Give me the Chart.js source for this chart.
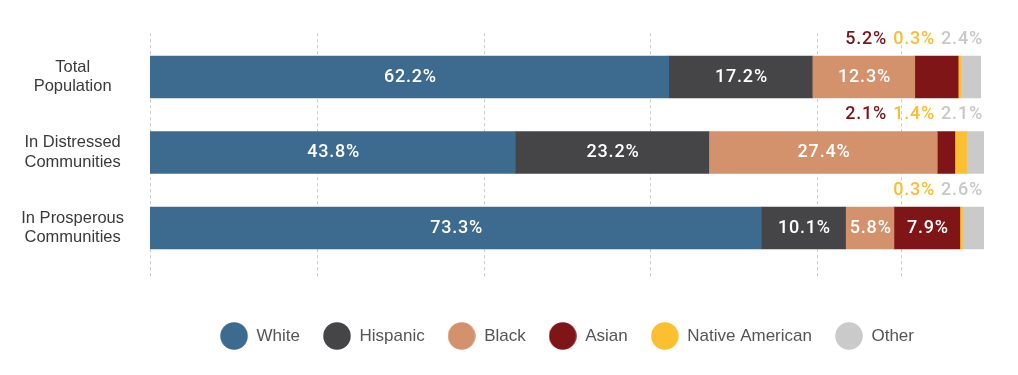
<!DOCTYPE html>
<html>
<head>
<meta charset="utf-8">
<script src="https://cdn.jsdelivr.net/npm/chart.js@4.4.1/dist/chart.umd.min.js"></script>
<style>
  html, body { margin: 0; padding: 0; background: #fff; }
</style>
</head>
<body>
<canvas id="race-chart" width="1018" height="375"></canvas>
<script>
// Population share by race/ethnicity, % of each group

const categories = [['Total', 'Population'], ['In Distressed', 'Communities'], ['In Prosperous', 'Communities']]
const seriesNames = ['White', 'Hispanic', 'Black', 'Asian', 'Native American', 'Other']

const white = [62.2, 43.8, 73.3]
const hispanic = [17.2, 23.2, 10.1]
const black = [12.3, 27.4, 5.8]
const asian = [5.2, 2.1, 7.9]
const nativeAmerican = [0.3, 1.4, 0.3]
const other = [2.4, 2.1, 2.6]

// dashed guide lines (percent)
const gridTicks = [0, 20, 40, 60, 80, 90]

const COLORS = ['#3d6b8f', '#454547', '#d3926c', '#7f1517', '#fcbf30', '#cacaca']
const LABEL_COLORS = ['#3d6b8f', '#454547', '#d3926c', '#7b1518', '#f9bd30', '#c8c8c8']
const FONT = "'Liberation Sans', Arial, sans-serif"

const seriesData = [white, hispanic, black, asian, nativeAmerican, other]

// round legend markers, drawn once as small canvases
function dot(color) {
  const c = document.createElement('canvas')
  c.width = c.height = 28
  const g = c.getContext('2d')
  g.fillStyle = color
  g.beginPath()
  g.arc(14, 14, 13.75, 0, Math.PI * 2)
  g.fill()
  return c
}

// dashed vertical lines, a bit longer than the plot area
const dashedGrid = {
  id: 'dashedGrid',
  beforeDatasetsDraw(chart) {
    const { ctx, chartArea, scales: { x } } = chart
    ctx.save()
    ctx.strokeStyle = '#c9c9c9'
    ctx.lineWidth = 1
    ctx.setLineDash([3, 3])
    gridTicks.forEach(t => {
      const px = Math.round(x.getPixelForValue(t)) + 0.5
      ctx.beginPath()
      ctx.moveTo(px, chartArea.top - 6)
      ctx.lineTo(px, chartArea.bottom + 11)
      ctx.stroke()
    })
    ctx.restore()
  }
}

// value labels: big segments inside, small ones above the bar end
const segmentLabels = {
  id: 'segmentLabels',
  afterDatasetsDraw(chart) {
    const ctx = chart.ctx
    ctx.save()
    ctx.font = '500 18px Roboto'
    ctx.letterSpacing = '0.8px'
    ctx.textBaseline = 'middle'
    chart.data.labels.forEach((_, i) => {
      let right = chart.chartArea.right - 1
      for (let d = chart.data.datasets.length - 1; d >= 0; d--) {
        const v = chart.data.datasets[d].data[i]
        const bar = chart.getDatasetMeta(d).data[i]
        const text = v.toFixed(1) + '%'
        if (v >= 5.5) {
          ctx.fillStyle = '#fff'
          ctx.textAlign = 'center'
          ctx.fillText(text, (bar.base + bar.x) / 2 + 1, bar.y)
        } else {
          ctx.fillStyle = LABEL_COLORS[d]
          ctx.textAlign = 'right'
          ctx.fillText(text, right, bar.y - bar.height / 2 - 17)
          right -= ctx.measureText(text).width + 6
        }
      }
    })
    ctx.restore()
  }
}

new Chart(document.getElementById('race-chart'), {
  type: 'bar',
  data: {
    labels: categories,
    datasets: seriesNames.map((name, k) => ({
      label: name,
      data: seriesData[k],
      backgroundColor: COLORS[k],
      pointStyle: dot(COLORS[k]),
      borderWidth: 0,
      barThickness: 42
    }))
  },
  options: {
    indexAxis: 'y',
    responsive: false,
    animation: false,
    layout: { padding: { top: 39.25, right: 34, bottom: 20.5, left: 0 } },
    scales: {
      x: {
        stacked: true,
        min: 0,
        max: 100,
        grid: { display: false },
        border: { display: false },
        ticks: { display: false },
        afterFit: (scale) => { scale.height = 38.75 }
      },
      y: {
        stacked: true,
        grid: { display: false },
        border: { display: false },
        ticks: {
          color: '#3a3a3a',
          crossAlign: 'center',
          padding: 18,
          font: { family: FONT, size: 16.5, lineHeight: 1.17 }
        },
        afterFit: (scale) => {
          scale.width = 150
          scale.paddingTop = 0
          scale.paddingBottom = 0
        }
      }
    },
    plugins: {
      tooltip: { enabled: false },
      legend: {
        position: 'bottom',
        fullSize: false,
        labels: {
          usePointStyle: true,
          pointStyleWidth: 28,
          boxHeight: 17,
          padding: 23,
          color: '#555',
          font: { family: FONT, size: 17 }
        }
      }
    }
  },
  plugins: [dashedGrid, segmentLabels]
})
</script>
</body>
</html>
